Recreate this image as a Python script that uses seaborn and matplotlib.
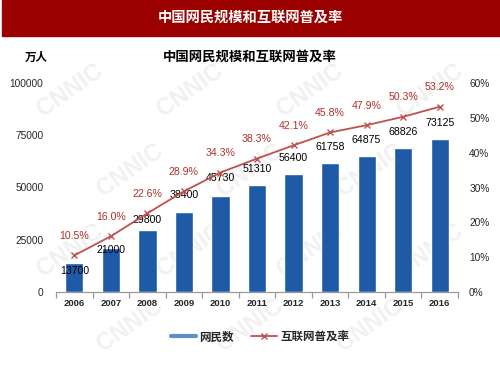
import numpy as np
import pandas as pd
import matplotlib
matplotlib.use('Agg')
import matplotlib.pyplot as plt
from matplotlib.lines import Line2D
import seaborn as sns

years = ['2006', '2007', '2008', '2009', '2010', '2011', '2012', '2013', '2014', '2015', '2016']
netizens = [13700, 21000, 29800, 38400, 45730, 51310, 56400, 61758, 64875, 68826, 73125]
rates = [10.5, 16.0, 22.6, 28.9, 34.3, 38.3, 42.1, 45.8, 47.9, 50.3, 53.2]
left_ticks = [0, 25000, 50000, 75000, 100000]
right_ticks = [0, 10, 20, 30, 40, 50, 60]

BAR_BLUE = '#1f5aa6'
LEG_BLUE = '#5b8fd0'
LINE_RED = '#c0504d'
TXT_RED = '#b0302a'

sns.set_theme(style='white')
plt.rcParams['font.family'] = ['Liberation Sans', 'Noto Sans CJK SC', 'DejaVu Sans']

df = pd.DataFrame({'year': years, 'netizens': netizens, 'rate': rates})

fig = plt.figure(figsize=(5, 3.75), dpi=100)
fig.patch.set_facecolor('white')

# header band
fig.patches.append(plt.Rectangle((0.004, 1 - 36 / 375), 0.996, 36 / 375,
                                 transform=fig.transFigure, color='#9b0000', zorder=0))
fig.text(0.5, 1 - 18 / 375, '中国网民规模和互联网普及率', color='white', fontsize=10.3,
         fontweight='bold', ha='center', va='center', family=['Noto Sans CJK SC'])
fig.text(0.5, 1 - 57 / 375, '中国网民规模和互联网普及率', color='black', fontsize=9.6,
         fontweight='bold', ha='center', va='center', family=['Noto Sans CJK SC'])
fig.text(36 / 500, 1 - 57 / 375, '万人', color='black', fontsize=8.3,
         fontweight='bold', ha='center', va='center', family=['Noto Sans CJK SC'])

# faint watermark, kept inside the canvas
for row, yy in enumerate([90, 170, 250, 325]):
    xs = [70, 190, 310, 430] if row % 2 == 0 else [130, 250, 370]
    for xx in xs:
        fig.text(xx / 500, 1 - yy / 375, 'CNNIC', color='#f1f1f1', fontsize=17,
                 fontweight='bold', rotation=35, ha='center', va='center', zorder=-1)

ax = fig.add_axes([56 / 500, 1 - 292 / 375, 402 / 500, 209 / 375])
ax.patch.set_alpha(0)
sns.barplot(data=df, x='year', y='netizens', color=BAR_BLUE, width=0.5,
            saturation=1, ax=ax, zorder=3)
ax.set_ylim(0, 100000)
ax.set_xlim(-0.5, len(years) - 0.5)
ax.set_yticks(left_ticks)
ax.set_yticklabels([str(t) for t in left_ticks], fontsize=7.3)
ax.tick_params(axis='y', length=0, pad=9)
ax.tick_params(axis='x', length=0, labelsize=6.8, pad=5)
for lbl in ax.get_xticklabels():
    lbl.set_fontweight('bold')
ax.set_xlabel('')
ax.set_ylabel('')
for s in ['top', 'right', 'left']:
    ax.spines[s].set_visible(False)
ax.spines['bottom'].set_color('#999999')
ax.spines['bottom'].set_linewidth(0.9)
ax.set_xticks(np.arange(-0.5, len(years)), minor=True)
ax.tick_params(axis='x', which='minor', length=4, color='#999999', width=0.9, bottom=True)

# bar value labels (first two pushed down to clear the line)
lab_off = [-8, -2, 10, 17, 18, 16, 16, 16, 16, 16, 16]
for i, v in enumerate(netizens):
    ax.annotate(str(v), (i, v), xytext=(0, lab_off[i] * 0.72), textcoords='offset points',
                ha='center', va='center', fontsize=7.6, color='black', zorder=6)

ax2 = ax.twinx()
ax2.patch.set_alpha(0)
sns.pointplot(x=list(range(len(years))), y=rates, native_scale=True, color=LINE_RED,
              markers='x', linewidth=1.3, markersize=5, ax=ax2)
for c in ax2.collections:
    c.set_linewidth(1.3)
ax2.set_xlim(-0.5, len(years) - 0.5)
ax2.set_ylim(0, 60)
ax2.set_yticks(right_ticks)
ax2.set_yticklabels(['%d%%' % t for t in right_ticks], fontsize=7.3)
ax2.tick_params(axis='y', length=0, pad=8)
for s in ['top', 'right', 'left', 'bottom']:
    ax2.spines[s].set_visible(False)
for i, r in enumerate(rates):
    ax2.annotate('%.1f%%' % r, (i, r), xytext=(0, 14), textcoords='offset points',
                 ha='center', va='center', fontsize=7.6, color=TXT_RED)

handles = [Line2D([0], [0], color=LEG_BLUE, lw=3),
           Line2D([0], [0], color=LINE_RED, lw=1.3, marker='x', markersize=5)]
fig.legend(handles, ['网民数', '互联网普及率'], loc='center', bbox_to_anchor=(0.52, 1 - 337 / 375),
           ncol=2, frameon=False, handlelength=2.2, columnspacing=1.5,
           handletextpad=0.3, prop={'family': ['Noto Sans CJK SC'], 'weight': 'bold', 'size': 8.3})

fig.savefig('out.png', dpi=100)
